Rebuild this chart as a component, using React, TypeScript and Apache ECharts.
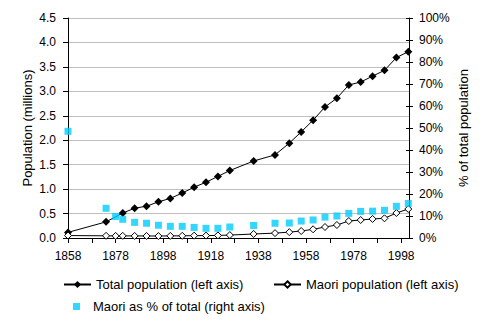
import React, { useEffect, useRef } from "react";
import * as echarts from "echarts";

const totalYears = [1858, 1874, 1881, 1886, 1891, 1896, 1901, 1906, 1911, 1916, 1921, 1926, 1936, 1945, 1951, 1956, 1961, 1966, 1971, 1976, 1981, 1986, 1991, 1996, 2001];
const totalValues = [0.115, 0.33, 0.51, 0.61, 0.65, 0.74, 0.81, 0.92, 1.04, 1.14, 1.26, 1.38, 1.575, 1.7, 1.94, 2.17, 2.41, 2.68, 2.86, 3.13, 3.19, 3.31, 3.43, 3.69, 3.81];

const maoriYears = [1858, 1874, 1878, 1881, 1886, 1891, 1896, 1901, 1906, 1911, 1916, 1921, 1926, 1936, 1945, 1951, 1956, 1961, 1966, 1971, 1976, 1981, 1986, 1991, 1996, 2001];
const maoriValues = [0.05, 0.045, 0.043, 0.044, 0.042, 0.042, 0.04, 0.043, 0.045, 0.048, 0.049, 0.053, 0.06, 0.082, 0.1, 0.12, 0.143, 0.178, 0.225, 0.266, 0.348, 0.368, 0.389, 0.403, 0.511, 0.593];
const maoriPctValues = [48.5, 13.5, 9.8, 8.5, 7.1, 6.7, 5.8, 5.3, 5.3, 4.8, 4.4, 4.4, 5.0, 5.7, 6.7, 6.8, 7.7, 8.2, 9.5, 10.0, 11.2, 12.1, 12.2, 12.6, 14.4, 15.7];

const seriesNames = [
  "Total population (left axis)",
  "Maori population (left axis)",
  "Maori as % of total (right axis)",
];

const FONT = "'Liberation Sans', Arial, sans-serif";

export default function App() {
  const ref = useRef<HTMLDivElement>(null);

  useEffect(() => {
    if (!ref.current) return;
    const chart = echarts.init(ref.current, null, { renderer: "svg" });
    const xMin = 1858;
    const xMax = 2001.3;
    const pair = (xs: number[], ys: number[]) => xs.map((x, i) => [x, ys[i]]);
    const legendText = { color: "#000", fontSize: 13, fontFamily: FONT };

    chart.setOption({
      animation: false,
      backgroundColor: "#fff",
      textStyle: { fontFamily: FONT, color: "#000" },
      grid: { left: 68, right: 83, top: 18, bottom: 83 },
      xAxis: [
        {
          type: "value",
          min: xMin,
          max: xMax,
          interval: 10,
          axisLine: { lineStyle: { color: "#000", width: 1 } },
          axisTick: { show: true, length: 5, lineStyle: { color: "#000" } },
          axisLabel: {
            color: "#000",
            fontSize: 12,
            fontFamily: FONT,
            margin: 12,
            showMaxLabel: false,
            formatter: (v: number) => ((v - 1858) % 20 === 0 ? String(v) : ""),
          },
          splitLine: { show: false },
        },
        {
          type: "value",
          position: "top",
          min: xMin,
          max: xMax,
          axisLine: { show: true, lineStyle: { color: "#000", width: 1 } },
          axisTick: { show: false },
          axisLabel: { show: false },
          splitLine: { show: false },
        },
      ],
      yAxis: [
        {
          type: "value",
          min: 0,
          max: 4.5,
          interval: 0.5,
          name: "Population (millions)",
          nameLocation: "middle",
          nameRotate: 90,
          nameGap: 34,
          nameMoveOverlap: false,
          nameTextStyle: { fontSize: 13, color: "#000", fontFamily: FONT },
          axisLine: { show: true, lineStyle: { color: "#000", width: 1 } },
          axisTick: { show: true, length: 5, lineStyle: { color: "#000" } },
          axisLabel: {
            color: "#000",
            fontSize: 12,
            fontFamily: FONT,
            margin: 12,
            formatter: (v: number) => v.toFixed(1),
          },
          splitLine: { show: true, lineStyle: { color: "#c0c0c0", width: 1 } },
        },
        {
          type: "value",
          position: "right",
          min: 0,
          max: 100,
          interval: 10,
          name: "% of total population",
          nameLocation: "middle",
          nameRotate: 90,
          nameGap: 48,
          nameMoveOverlap: false,
          nameTextStyle: { fontSize: 13, color: "#000", fontFamily: FONT },
          axisLine: { show: true, lineStyle: { color: "#000", width: 1 } },
          axisTick: { show: true, length: 4, lineStyle: { color: "#000" } },
          axisLabel: {
            color: "#000",
            fontSize: 12,
            fontFamily: FONT,
            margin: 10,
            formatter: (v: number) => v + "%",
          },
          splitLine: { show: false },
        },
        {
          type: "value",
          position: "right",
          min: 0,
          max: 100,
          interval: 10,
          axisLine: { show: false },
          axisTick: { show: true, inside: true, length: 3, lineStyle: { color: "#000" } },
          axisLabel: { show: false },
          splitLine: { show: false },
        },
      ],
      legend: [
        {
          data: [seriesNames[0]],
          left: 58,
          top: 273,
          itemWidth: 27,
          itemHeight: 9,
          itemGap: 0,
          textStyle: legendText,
        },
        {
          data: [seriesNames[1]],
          left: 268,
          top: 273,
          itemWidth: 27,
          itemHeight: 8,
          itemGap: 0,
          textStyle: legendText,
        },
        {
          data: [seriesNames[2]],
          left: 68,
          top: 295,
          itemWidth: 7,
          itemHeight: 7,
          itemGap: 0,
          textStyle: { ...legendText, padding: [0, 0, 0, 8] },
        },
      ],
      series: [
        {
          name: seriesNames[0],
          type: "line",
          xAxisIndex: 0,
          yAxisIndex: 0,
          data: pair(totalYears, totalValues),
          symbol: "diamond",
          symbolSize: 8,
          itemStyle: { color: "#000" },
          lineStyle: { color: "#000", width: 1 },
          z: 3,
        },
        {
          name: seriesNames[1],
          type: "line",
          xAxisIndex: 0,
          yAxisIndex: 0,
          data: pair(maoriYears, maoriValues),
          symbol: "diamond",
          symbolSize: 7,
          itemStyle: { color: "#fff", borderColor: "#000", borderWidth: 1 },
          lineStyle: { color: "#000", width: 1 },
          z: 3,
        },
        {
          name: seriesNames[2],
          type: "scatter",
          xAxisIndex: 0,
          yAxisIndex: 1,
          data: pair(maoriYears, maoriPctValues),
          symbol: "rect",
          symbolSize: 7,
          itemStyle: { color: "#00CCFF" },
          z: 4,
        },
      ],
    });

    return () => chart.dispose();
  }, []);

  return (
    <div
      ref={ref}
      style={{ position: "fixed", left: 0, top: 0, width: 492, height: 321, background: "#fff" }}
    />
  );
}
